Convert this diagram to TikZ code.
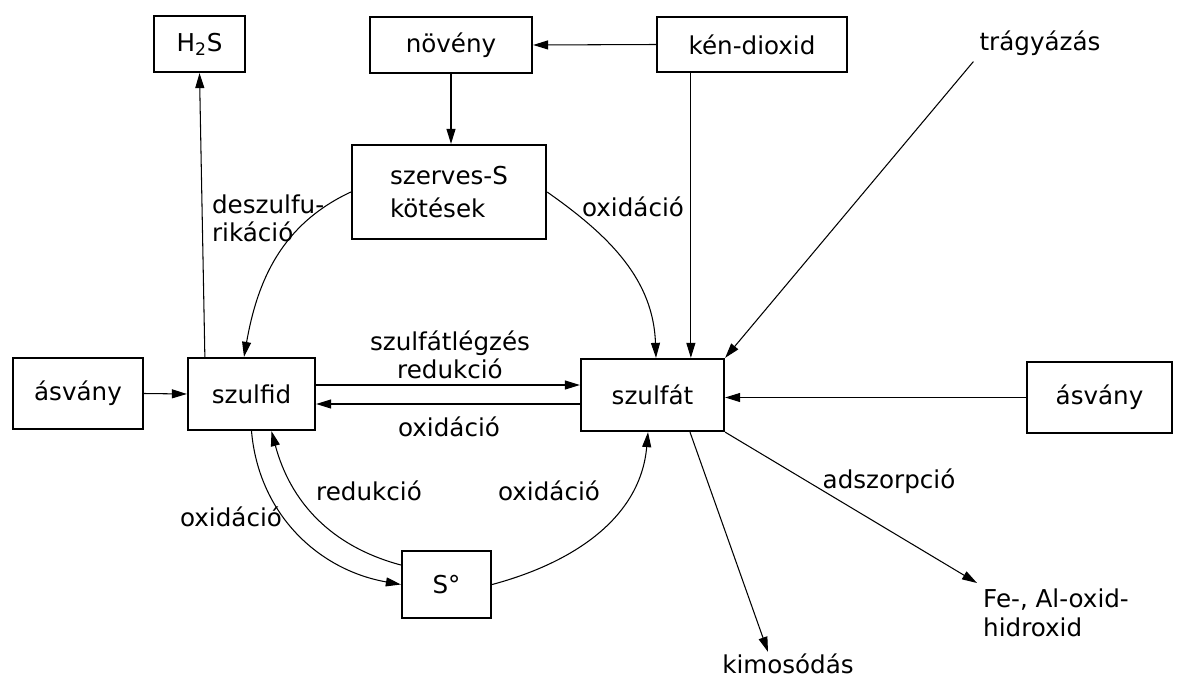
\documentclass[tikz,border=0pt]{standalone}
\usepackage{fontspec}
\setmainfont{DejaVu Sans}
\usetikzlibrary{arrows.meta}

\begin{document}
\begin{tikzpicture}[x=0.02cm, y=-0.02cm,
        every node/.style={font=\fontsize{14}{16}\selectfont},
        box/.style={draw, line width=1.3pt, minimum height=1.42cm, inner sep=2pt},
        lbl/.style={inner sep=1pt, align=center},
        arr/.style={line width=0.6pt, -{Triangle[length=3mm,width=1.8mm]}}]
            \useasboundingbox (0,0) rectangle (1179,679);

            % Nodes
            \node[box, minimum width=1.82cm, minimum height=1.12cm] (h2s) at (199.5,44) {H\textsubscript{2}S};
            \node[box, minimum width=3.24cm, minimum height=1.12cm] (noveny) at (451,45) {növény};
            \node[box, minimum width=3.8cm, minimum height=1.1cm] (kendioxid) at (752,44.5) {kén-dioxid};
            \node[box, minimum width=3.88cm, minimum height=1.88cm, align=left] (szerves) at (449,192) {szerves-S\\[3pt]kötések};
            \node[box, minimum width=2.6cm] (asvany1) at (78,393.5) {ásvány};
            \node[box, minimum width=2.54cm, minimum height=1.44cm] (szulfid) at (251.5,394) {szulfid};
            \node[box, minimum width=2.86cm, minimum height=1.44cm] (szulfat) at (652.5,395) {szulfát};
            \node[box, minimum width=2.9cm] (asvany2) at (1099.5,397.5) {ásvány};
            \node[box, minimum width=1.78cm, minimum height=1.34cm] (so) at (446.5,584.5) {S°};

            \node (tragyazas) at (1040,43) {trágyázás};
            \node[align=left, anchor=north west] (feal) at (977,583) {Fe-, Al-oxid-\\hidroxid};
            \node[inner sep=1pt] (kimosodas) at (788,664) {kimosódás};

            % Labels
            \node[lbl, align=left, anchor=west] (deszulf) at (210,218) {deszulfu-\\rikáció};
            \node[lbl] (ox1) at (633,207) {oxidáció};
            \node[lbl] (szlegz) at (450,355) {szulfátlégzés\\redukció};
            \node[lbl] (ox2) at (449,427) {oxidáció};
            \node[lbl] (red1) at (369,491) {redukció};
            \node[lbl] (ox3) at (231,517) {oxidáció};
            \node[lbl] (ox4) at (549,491) {oxidáció};
            \node[lbl] (adsz) at (889,481) {adszorpció};

            % Lines
            \draw[arr] (kendioxid.west) -- (noveny.east);
            \draw[arr] (noveny.south) -- (noveny.south |- szerves.north);
            \draw[arr] ([xshift=0.7cm]kendioxid.south west) -- ([xshift=0.7cm]kendioxid.south west |- szulfat.north);
            \draw[arr] (tragyazas.south west) -- (szulfat.north east);
            \draw[arr] (asvany2.west) -- (asvany2.west -| szulfat.east);
            \draw[arr] (asvany1.east) -- (szulfid.west);
            \draw[arr] ([yshift=0.18cm]szulfid.east) -- ([yshift=0.18cm]szulfid.east -| szulfat.west);
            \draw[arr] ([yshift=-0.18cm]szulfat.west) -- ([yshift=-0.18cm]szulfat.west -| szulfid.east);
            \draw[arr] ([xshift=0.36cm]szulfid.north west) -- (h2s.south);
            \draw[arr] (szerves.west) to[out=205,in=80] ([xshift=-0.15cm]szulfid.north);
            \draw[arr] (szerves.east) to[out=-35,in=92] ([xshift=0.07cm]szulfat.north);
            \draw[arr] (so.east) to[out=15,in=-95] ([xshift=-0.09cm]szulfat.south);
            \draw[arr] (szulfid.south) to[out=-85,in=170] (so.west);
            \draw[arr] ([yshift=0.39cm]so.west) to[out=165,in=-75] ([xshift=0.4cm]szulfid.south);
            \draw[arr] ([xshift=0.75cm]szulfat.south) -- ([xshift=-0.4cm]kimosodas.north);
            \draw[arr] (szulfat.south east) -- (feal.north west);
        \end{tikzpicture}
\end{document}
